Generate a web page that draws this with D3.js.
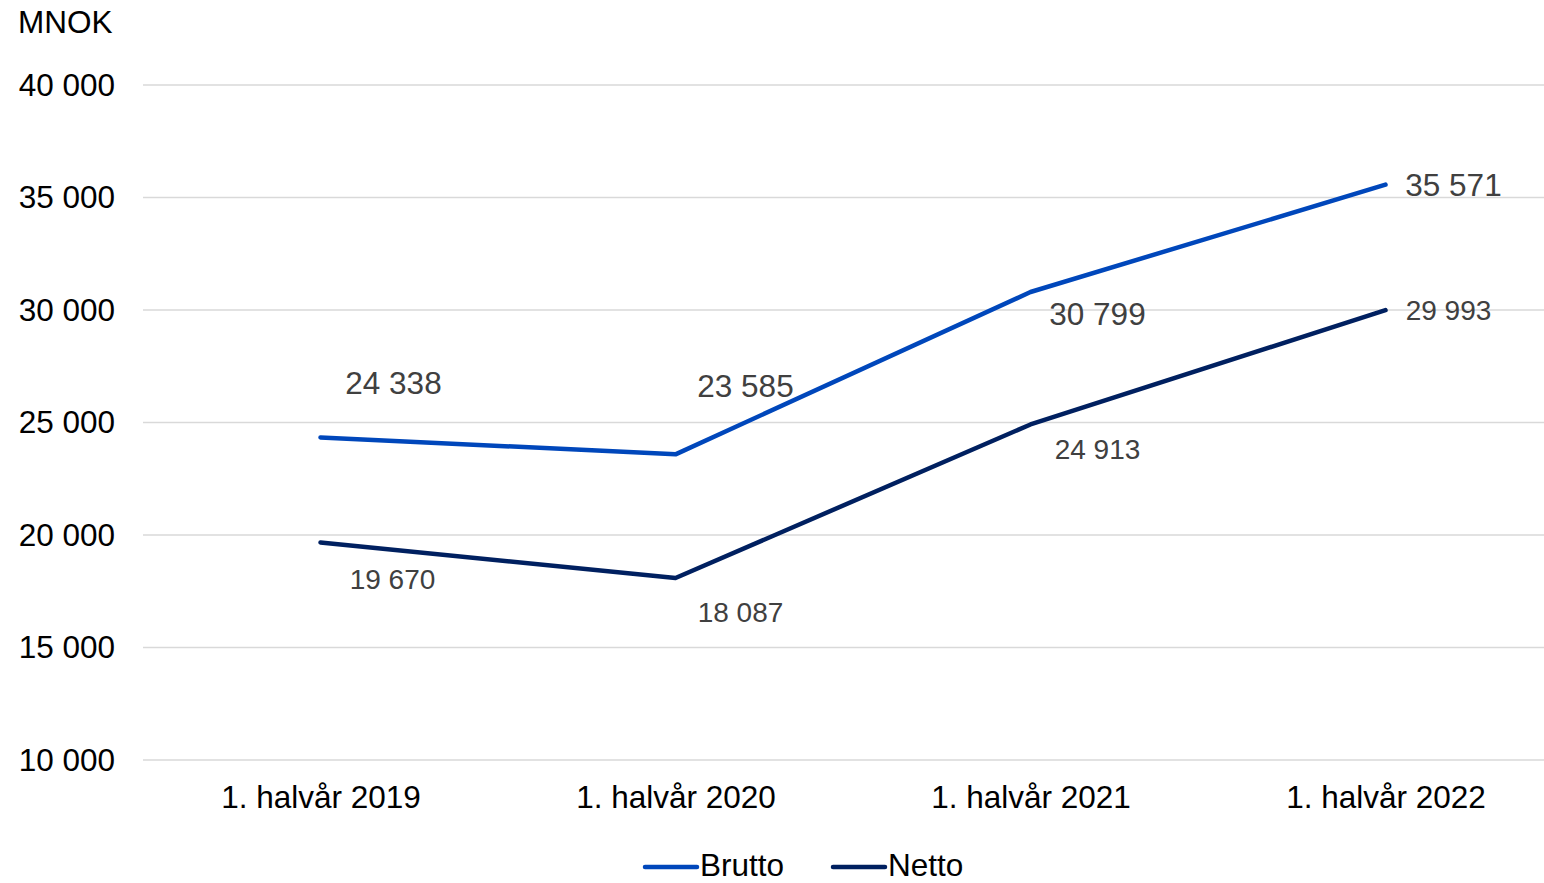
<!DOCTYPE html>
<html>
<head>
<meta charset="utf-8">
<script src="https://cdn.jsdelivr.net/npm/d3@7"></script>
<style>
  html, body { margin: 0; padding: 0; background: #fff; }
  svg { display: block; font-family: Arial, "Liberation Sans", sans-serif; }
</style>
</head>
<body>
<svg id="chart" width="1544" height="883"></svg>
<script>
// Periods on the x axis
const categories = ["1. halvår 2019", "1. halvår 2020", "1. halvår 2021", "1. halvår 2022"];
// Premium volumes, MNOK
const brutto = [24338, 23585, 30799, 35571];
const netto = [19670, 18087, 24913, 29993];
// Y axis ticks
const yTicks = [10000, 15000, 20000, 25000, 30000, 35000, 40000];

// Where each value label sits relative to its point
const bruttoLabelPos = [[73, -54], [70, -68], [67, 22], [68, 0]];
const nettoLabelPos = [[72, 37], [65, 34], [67, 25], [63, 0]];

const svg = d3.select("#chart");
const fmt = v => d3.format(",")(v).replace(/,/g, " ");
const FONT = "Arial, 'Liberation Sans', sans-serif";

const x = d3.scalePoint().domain(categories).range([143, 1563]).padding(0.5);
const y = d3.scaleLinear().domain([10000, 40000]).range([760, 85]);

// Horizontal gridlines
svg.append("g")
  .selectAll("line")
  .data(yTicks)
  .join("line")
  .attr("x1", 143).attr("x2", 1544)
  .attr("y1", d => y(d)).attr("y2", d => y(d))
  .attr("stroke", "#d9d9d9").attr("stroke-width", 1.5);

// Y axis labels
const yAxis = d3.axisLeft(y).tickValues(yTicks).tickFormat(fmt).tickSize(0).tickPadding(0);
const yg = svg.append("g").attr("transform", "translate(115,-1)").call(yAxis);
yg.select(".domain").remove();
yg.selectAll("text").attr("font-size", 31.5).attr("fill", "#000")
  .attr("font-family", FONT).attr("dy", "0.35em");

// X axis labels
const xAxis = d3.axisBottom(x).tickSize(0).tickPadding(0);
const xg = svg.append("g").attr("transform", "translate(0,797)").call(xAxis);
xg.select(".domain").remove();
xg.selectAll("text").attr("font-size", 31.5).attr("fill", "#000")
  .attr("font-family", FONT).attr("dy", "0.35em");

// Unit label
svg.append("text").attr("x", 18).attr("y", 22).attr("dy", "0.35em")
  .attr("font-size", 31.5).attr("fill", "#000").text("MNOK");

const line = d3.line().x((d, i) => x(categories[i])).y(d => y(d));

const series = [
  { name: "Brutto", values: brutto, color: "#0047BB", labelSize: 31.5, pos: bruttoLabelPos },
  { name: "Netto", values: netto, color: "#002060", labelSize: 28, pos: nettoLabelPos }
];

series.forEach(s => {
  svg.append("path").datum(s.values)
    .attr("d", line)
    .attr("fill", "none")
    .attr("stroke", s.color)
    .attr("stroke-width", 4.5)
    .attr("stroke-linecap", "round")
    .attr("stroke-linejoin", "round");

  svg.append("g").selectAll("text")
    .data(s.values)
    .join("text")
    .attr("x", (d, i) => x(categories[i]) + s.pos[i][0])
    .attr("y", (d, i) => y(d) + s.pos[i][1])
    .attr("dy", "0.35em")
    .attr("text-anchor", "middle")
    .attr("font-size", s.labelSize)
    .attr("fill", "#404040")
    .text(fmt);
});

// Legend
const legendItems = [
  { name: "Brutto", color: "#0047BB", x: 643 },
  { name: "Netto", color: "#002060", x: 831 }
];
const lg = svg.append("g");
legendItems.forEach(it => {
  lg.append("line")
    .attr("x1", it.x + 2).attr("x2", it.x + 54)
    .attr("y1", 867).attr("y2", 867)
    .attr("stroke", it.color).attr("stroke-width", 4.5).attr("stroke-linecap", "round");
  lg.append("text")
    .attr("x", it.x + 57).attr("y", 866).attr("dy", "0.32em")
    .attr("font-size", 31.5).attr("fill", "#000").text(it.name);
});
</script>
</body>
</html>
